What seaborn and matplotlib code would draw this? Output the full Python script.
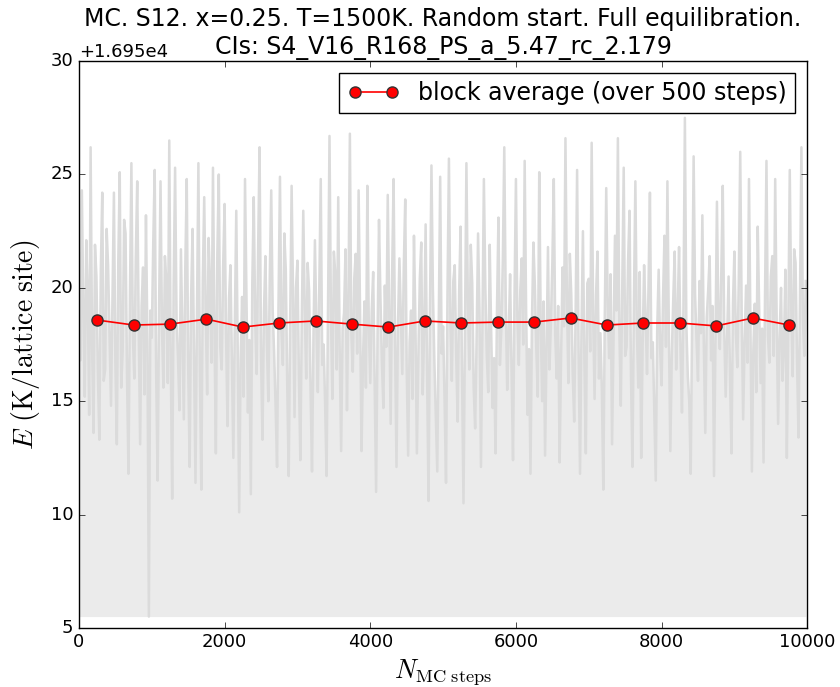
import numpy as np
import pandas as pd
import matplotlib
matplotlib.use("Agg")
import matplotlib.pyplot as plt
from matplotlib.ticker import ScalarFormatter
import seaborn as sns

# ---------------- data ----------------
E_OFFSET = 16950.0          # axis offset "+1.695e4"
N_STEPS = 10000             # length of the MC run

trace_0k = [21.5, 16.8, 24.3, 18.9, 15.2, 22.1, 19.8, 14.4, 26.2, 17.5, 13.6, 21.9, 20.5,
            16.2, 13.3, 20.8, 24.2, 15.9, 16.4, 22.6, 21.0, 17.8, 14.8, 19.4, 24.2, 16.7,
            13.1, 21.2, 25.1, 15.6, 17.2, 23.0, 22.4, 16.1, 11.8, 19.7, 25.5, 17.9, 16.0,
            21.3, 24.7, 18.4, 13.1, 19.2, 20.9, 15.3, 23.2, 17.6, 5.5, 19.0]
trace_1k = [17.8, 22.0, 25.2, 16.3, 11.5, 19.1, 24.7, 18.2, 15.6, 21.4, 20.3, 15.8, 26.5,
            17.0, 10.7, 20.1, 25.3, 18.7, 16.9, 14.6, 21.7, 18.0, 14.2, 20.9, 24.8, 16.5,
            12.1, 19.6, 22.6, 17.2, 11.4, 18.8, 25.5, 16.4, 11.1, 20.3, 24.0, 19.1, 15.3,
            22.2, 20.2, 16.7, 25.3, 18.3, 12.7, 21.5, 25.0, 17.4, 16.4, 21.0]
trace_2k = [23.7, 17.9, 13.9, 19.5, 21.0, 16.6, 12.5, 18.4, 23.4, 17.2, 10.1, 16.9, 19.6,
            15.2, 24.8, 19.8, 14.5, 17.7, 10.9, 20.2, 24.0, 18.6, 16.2, 21.7, 26.2, 17.0,
            13.3, 18.9, 21.4, 17.6, 15.0, 20.5, 24.3, 19.0, 17.1, 14.8, 12.1, 19.3, 24.9,
            18.1, 16.6, 22.4, 20.8, 15.7, 11.7, 18.5, 24.5, 19.6, 14.3, 20.0]
trace_3k = [21.2, 16.1, 12.4, 18.7, 23.4, 19.2, 16.0, 21.1, 19.9, 15.5, 11.9, 17.8, 22.1,
            18.4, 15.4, 20.0, 24.8, 16.6, 17.5, 14.9, 11.7, 19.3, 26.7, 18.8, 15.1, 21.6,
            20.6, 16.4, 24.0, 17.3, 12.8, 18.2, 18.9, 21.7, 14.6, 19.5, 26.8, 18.0, 16.3,
            20.4, 21.5, 17.1, 24.3, 18.9, 12.8, 16.8, 19.4, 15.6, 24.5, 18.3]
trace_4k = [15.8, 19.0, 20.7, 16.0, 11.0, 17.9, 23.0, 19.5, 16.7, 14.7, 20.1, 17.4, 24.1,
            19.0, 14.0, 20.6, 24.8, 17.7, 12.1, 18.3, 21.3, 18.8, 16.2, 20.9, 23.9, 16.5,
            12.6, 17.6, 19.0, 15.1, 22.3, 18.5, 12.7, 16.9, 20.4, 22.0, 15.3, 18.1, 22.8,
            16.3, 10.6, 19.2, 25.4, 19.9, 16.8, 14.3, 11.9, 18.6, 24.9, 17.1]
trace_5k = [18.3, 15.1, 11.4, 19.7, 25.7, 18.5, 15.9, 20.3, 21.0, 17.0, 14.1, 19.8, 22.7,
            16.2, 10.5, 18.0, 25.5, 19.4, 16.4, 21.9, 20.2, 15.6, 13.8, 17.7, 22.4, 18.9,
            12.1, 18.6, 24.8, 20.0, 17.0, 15.4, 21.9, 18.1, 14.7, 16.9, 12.7, 19.1, 23.1,
            16.6, 18.2, 21.2, 26.2, 19.4, 15.5, 17.9, 20.6, 16.3, 12.4, 19.5]
trace_6k = [24.8, 18.7, 16.6, 19.9, 21.3, 17.5, 25.6, 19.0, 14.4, 17.3, 11.8, 18.5, 22.0,
            20.1, 17.3, 15.2, 25.1, 18.6, 15.0, 19.4, 12.6, 17.1, 21.8, 16.4, 18.4, 21.1,
            24.8, 17.9, 16.0, 19.2, 12.3, 17.0, 20.9, 18.3, 26.6, 19.6, 15.8, 21.5, 19.7,
            16.2, 14.1, 19.0, 25.2, 17.4, 11.8, 18.1, 22.5, 16.8, 12.7, 20.2]
trace_7k = [20.4, 17.2, 26.4, 18.9, 15.1, 19.7, 21.6, 16.0, 18.0, 15.5, 11.1, 18.7, 24.4,
            19.3, 16.9, 20.6, 13.1, 17.6, 22.3, 19.0, 26.6, 18.2, 14.8, 20.1, 25.3, 17.0,
            17.4, 21.2, 23.4, 16.1, 12.1, 19.4, 24.7, 18.3, 15.6, 20.7, 12.5, 17.5, 21.0,
            18.8, 16.2, 20.0, 24.2, 16.9, 17.6, 14.6, 11.5, 18.2, 20.8, 17.3]
trace_8k = [15.7, 19.6, 22.3, 17.4, 24.7, 18.1, 12.8, 17.0, 19.5, 21.6, 16.4, 18.8, 21.8,
            17.2, 14.5, 19.1, 27.5, 18.4, 16.1, 15.0, 11.8, 19.0, 25.8, 19.7, 17.7, 15.9,
            20.3, 18.0, 23.2, 17.5, 13.6, 18.7, 19.9, 21.4, 16.8, 19.2, 11.7, 17.8, 23.8,
            18.6, 17.3, 20.7, 24.5, 18.2, 15.2, 17.9, 20.5, 16.0, 12.7, 19.3]
trace_9k = [21.6, 18.0, 16.5, 20.4, 26.0, 18.8, 14.2, 17.6, 20.1, 16.7, 24.8, 18.5, 11.9,
            17.3, 19.3, 15.4, 22.7, 19.1, 15.8, 18.2, 12.3, 19.6, 25.6, 17.9, 16.7, 20.5,
            21.4, 17.0, 24.8, 18.7, 14.0, 17.8, 20.0, 15.9, 17.4, 20.8, 12.5, 18.4, 25.2,
            19.2, 16.1, 21.7, 21.1, 16.8, 13.4, 19.5, 26.2, 18.6, 17.0, 20.3]

block_steps = [250, 750, 1250, 1750, 2250, 2750, 3250, 3750, 4250, 4750,
               5250, 5750, 6250, 6750, 7250, 7750, 8250, 8750, 9250, 9750]
block_avg = [18.58, 18.36, 18.40, 18.62, 18.27, 18.45, 18.54, 18.40, 18.27, 18.54,
             18.45, 18.49, 18.49, 18.67, 18.36, 18.45, 18.45, 18.32, 18.67, 18.36]

title_text = ("MC. S12. x=0.25. T=1500K. Random start. Full equilibration.\n"
              "CIs: S4_V16_R168_PS_a_5.47_rc_2.179")
legend_label = "block average (over 500 steps)"
x_label = r"$N_{\mathrm{MC\ steps}}$"
y_label = r"$E\ (\mathrm{K/lattice\ site})$"

# ---------------- build frames ----------------
trace = np.array(trace_0k + trace_1k + trace_2k + trace_3k + trace_4k +
                 trace_5k + trace_6k + trace_7k + trace_8k + trace_9k) + E_OFFSET
steps = np.linspace(0, N_STEPS, len(trace), endpoint=False)
df_trace = pd.DataFrame({"step": steps, "E": trace})
df_block = pd.DataFrame({"step": block_steps, "E": np.array(block_avg) + E_OFFSET})

# ---------------- style ----------------
plt.style.use("classic")
plt.rcParams.update({
    "figure.facecolor": "white",
    "savefig.facecolor": "white",
    "font.family": ["DejaVu Sans"],
    "mathtext.fontset": "cm",
    "xtick.labelsize": 13,
    "ytick.labelsize": 13,
    "legend.numpoints": 2,
})

fig = plt.figure(figsize=(8.4, 6.87), dpi=100)
ax = fig.add_axes([0.094, 0.086, 0.867, 0.825])

ax.fill_between(df_trace["step"], df_trace["E"], df_trace["E"].min(),
                color="#ebebeb", linewidth=0, zorder=1)
sns.lineplot(data=df_trace, x="step", y="E", ax=ax, color="#dbdbdb",
             linewidth=1.8, zorder=2, legend=False)
sns.lineplot(data=df_block, x="step", y="E", ax=ax, color="red",
             linewidth=1.2, marker="o", markersize=8, markerfacecolor="red",
             markeredgecolor="#333333", markeredgewidth=1.0, zorder=3,
             label=legend_label)

ax.set_xlim(0, N_STEPS)
ax.set_ylim(E_OFFSET + 5, E_OFFSET + 30)
ax.set_xticks([0, 2000, 4000, 6000, 8000, 10000])
ax.set_yticks(E_OFFSET + np.array([5, 10, 15, 20, 25, 30]))
fmt = ScalarFormatter(useOffset=E_OFFSET)
ax.yaxis.set_major_formatter(fmt)
ax.yaxis.get_offset_text().set_fontsize(13)

ax.set_title(title_text, fontsize=17, pad=5)
ax.set_xlabel(x_label, fontsize=19, labelpad=4)
ax.set_ylabel(y_label, fontsize=20, labelpad=6)

leg = ax.legend(loc="upper right", fontsize=17, frameon=True, fancybox=False,
                borderaxespad=0.5, handlelength=2.2, borderpad=0.35)
leg.get_frame().set_edgecolor("black")

fig.savefig("out.png", dpi=100)
